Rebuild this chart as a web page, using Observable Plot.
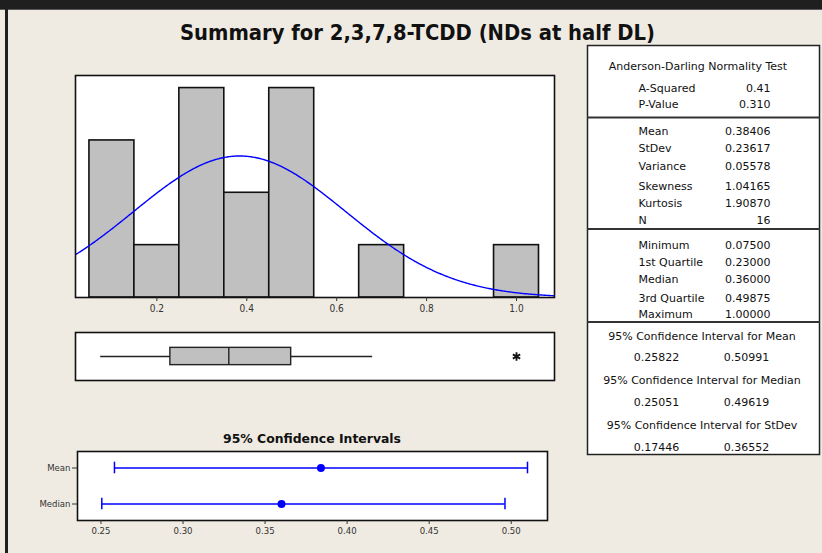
<!DOCTYPE html>
<html><head><meta charset="utf-8">
<script src="https://cdn.jsdelivr.net/npm/d3@7"></script>
<script src="https://cdn.jsdelivr.net/npm/@observablehq/plot@0.6"></script>
<style>
body{margin:0;background:#efebe2;}
#c{position:relative;width:822px;height:553px;overflow:hidden;background:#efebe2;font-family:"DejaVu Sans Condensed","DejaVu Sans",sans-serif;}
#c > svg{position:absolute;margin:0;overflow:visible;}
</style></head><body><div id="c"></div>
<script>
// ---------- data ----------
const titleText = "Summary for 2,3,7,8-TCDD (NDs at half DL)";
const binEdges = [0.05,0.15,0.25,0.35,0.45,0.55,0.65,0.75,0.85,0.95,1.05];
const binCounts = [3,1,4,2,4,0,1,0,0,1];
const histTicks = [0.2,0.4,0.6,0.8,1.0];
const fitMean = 0.38406, fitStDev = 0.23617, nObs = 16;
const boxQ1 = 0.23, boxMedian = 0.36, boxQ3 = 0.49875;
const whiskerLo = 0.075, whiskerHi = 0.68;
const outliers = [1.0];
const ciNames = ["Mean","Median"];
const ciLo = [0.25822,0.25051];
const ciHi = [0.50991,0.49619];
const ciEst = [0.38406,0.36000];
const ciTicks = [0.25,0.30,0.35,0.40,0.45,0.50];
const ciPanelTitle = "95% Confidence Intervals";
const adTitle = "Anderson-Darling Normality Test";
const adLabels = ["A-Squared","P-Value"];
const adValues = ["0.41","0.310"];
const descLabels = ["Mean","StDev","Variance","Skewness","Kurtosis","N"];
const descValues = ["0.38406","0.23617","0.05578","1.04165","1.90870","16"];
const quantLabels = ["Minimum","1st Quartile","Median","3rd Quartile","Maximum"];
const quantValues = ["0.07500","0.23000","0.36000","0.49875","1.00000"];
const ciTableTitles = ["95% Confidence Interval for Mean","95% Confidence Interval for Median","95% Confidence Interval for StDev"];
const ciTableLo = ["0.25822","0.25051","0.17446"];
const ciTableHi = ["0.50991","0.49619","0.36552"];

// ---------- layout / style ----------
const FONT = '"DejaVu Sans Condensed","DejaVu Sans",sans-serif';
const TFONT = '"DejaVu Sans",sans-serif';
const container = document.getElementById("c");
const xDomain = [0.019, 1.0845];
const baseStyle = {fontFamily: FONT, fontSize: "10px", color: "#333", background: "transparent", overflow: "visible"};
function place(svg, left, top) {
  svg.style.left = left + "px"; svg.style.top = top + "px";
  container.appendChild(svg);
}

// frame decorations
const deco = d3.create("svg").attr("width",822).attr("height",553);
deco.append("rect").attr("x",0).attr("y",0).attr("width",822).attr("height",9).attr("fill","#1f1f1f");
deco.append("rect").attr("x",0).attr("y",9).attr("width",822).attr("height",1).attr("fill","#5a5a5a");
deco.append("rect").attr("x",5).attr("y",9).attr("width",3).attr("height",544).attr("fill","#1f1f1f");
place(deco.node(), 0, 0);

// ---------- histogram ----------
const bins = binCounts.map((c,i) => ({x1: binEdges[i], x2: binEdges[i+1], count: c}));
const binW = binEdges[1] - binEdges[0];
const curve = d3.range(xDomain[0], xDomain[1] + 0.0025, 0.0025).map(x => ({
  x, y: nObs * binW * Math.exp(-0.5 * ((x - fitMean)/fitStDev)**2) / (fitStDev * Math.sqrt(2*Math.PI))
}));
const hist = Plot.plot({
  width: 499, height: 262, marginLeft: 10, marginRight: 10, marginTop: 10, marginBottom: 30,
  style: baseStyle,
  x: {domain: xDomain},
  y: {domain: [0, 4.24], axis: null},
  marks: [
    Plot.frame({fill: "white"}),
    Plot.rectY(bins, {x1: "x1", x2: "x2", y: "count", fill: "#c0c0c0", stroke: "#111", strokeWidth: 1.6}),
    Plot.line(curve, {x: "x", y: "y", stroke: "#0000ff", strokeWidth: 1.4, clip: true}),
    Plot.frame({stroke: "#111", strokeWidth: 1.6}),
    Plot.axisX({ticks: histTicks, tickFormat: d3.format(".1f"), tickSize: 4, tickPadding: 3, fontSize: 10, stroke: "#333", label: null})
  ]
});
place(hist, 65, 65);

// ---------- boxplot ----------
const boxData = [{lo: whiskerLo, q1: boxQ1, med: boxMedian, q3: boxQ3, hi: whiskerHi}];
const box = Plot.plot({
  width: 499, height: 68, marginLeft: 10, marginRight: 10, marginTop: 10, marginBottom: 10,
  style: baseStyle,
  x: {domain: xDomain, axis: null},
  y: {domain: [0, 1], axis: null},
  marks: [
    Plot.frame({fill: "white"}),
    Plot.ruleY(boxData, {y: () => 0.5, x1: "lo", x2: "q1", stroke: "#222", strokeWidth: 1.5}),
    Plot.ruleY(boxData, {y: () => 0.5, x1: "q3", x2: "hi", stroke: "#222", strokeWidth: 1.5}),
    Plot.rect(boxData, {x1: "q1", x2: "q3", y1: () => 0.32, y2: () => 0.68, fill: "#c0c0c0", stroke: "#222", strokeWidth: 1.4}),
    Plot.ruleX(boxData, {x: "med", y1: () => 0.32, y2: () => 0.68, stroke: "#222", strokeWidth: 1.4}),
    Plot.dot(outliers, {x: d => d, y: () => 0.5, symbol: "asterisk", r: 4, stroke: "#111", strokeWidth: 1.8}),
    Plot.frame({stroke: "#111", strokeWidth: 1.6})
  ]
});
place(box, 65, 322);

// ---------- confidence intervals ----------
const ci = ciNames.map((name,i) => ({name, lo: ciLo[i], hi: ciHi[i], est: ciEst[i]}));
const ciPlot = Plot.plot({
  width: 535, height: 104, marginLeft: 50, marginRight: 15, marginTop: 10, marginBottom: 25,
  style: baseStyle,
  x: {domain: [0.2357, 0.5221], label: null},
  y: {type: "band", domain: ciNames, paddingInner: 0.3, paddingOuter: 0.1, label: null},
  marks: [
    Plot.frame({fill: "white"}),
    Plot.ruleY(ci, {y: "name", x1: "lo", x2: "hi", stroke: "#0000ff", strokeWidth: 1.5}),
    Plot.tickX(ci, {x: "lo", y: "name", stroke: "#0000ff", strokeWidth: 1.5, insetTop: 6.7, insetBottom: 6.7}),
    Plot.tickX(ci, {x: "hi", y: "name", stroke: "#0000ff", strokeWidth: 1.5, insetTop: 6.7, insetBottom: 6.7}),
    Plot.dot(ci, {x: "est", y: "name", r: 4, fill: "#0000ff"}),
    Plot.frame({stroke: "#111", strokeWidth: 1.6}),
    Plot.axisX({ticks: ciTicks, tickFormat: d3.format(".2f"), tickSize: 4, tickPadding: 3, fontSize: 9.5, stroke: "#333", label: null}),
    Plot.axisY({tickSize: 5, tickPadding: 2, fontSize: 9.5, stroke: "#333", label: null})
  ]
});
place(ciPlot, 27, 441);

// ---------- text overlay (title, stats table) ----------
const ov = d3.create("svg").attr("width",822).attr("height",553)
  .style("font-family", TFONT).style("pointer-events","none");
ov.append("text").attr("x",180).attr("y",40).attr("textLength",475).attr("lengthAdjust","spacingAndGlyphs")
  .attr("font-family", FONT).attr("font-size",22).attr("font-weight","bold").attr("fill","#111").text(titleText);
ov.append("text").attr("x",312).attr("y",443).attr("text-anchor","middle").attr("textLength",178)
  .attr("lengthAdjust","spacingAndGlyphs").attr("font-family", FONT).attr("font-size",13).attr("font-weight","bold").attr("fill","#111").text(ciPanelTitle);

// table box
ov.append("rect").attr("x",587.5).attr("y",45.5).attr("width",232).attr("height",409)
  .attr("fill","white").attr("stroke","#222").attr("stroke-width",1.5);
[117.5, 229, 322].forEach(y => ov.append("line").attr("x1",587).attr("x2",820).attr("y1",y).attr("y2",y)
  .attr("stroke","#333").attr("stroke-width",2));

const fs = 11, lx = 638.5, rx = 770.5;
function txt(x, y, s, anchor) {
  ov.append("text").attr("x",x).attr("y",y).attr("text-anchor",anchor||"start")
    .attr("font-size",fs).attr("fill","#111").text(s);
}
txt(698, 70, adTitle, "middle");
const adY = [91.5, 108];
adLabels.forEach((l,i) => { txt(lx, adY[i], l); txt(rx, adY[i], adValues[i], "end"); });
const descY = [134.5, 151.5, 170, 189.5, 206.5, 224];
descLabels.forEach((l,i) => { txt(lx, descY[i], l); txt(rx, descY[i], descValues[i], "end"); });
const quantY = [249, 265.5, 282.5, 301.5, 318];
quantLabels.forEach((l,i) => { txt(lx, quantY[i], l); txt(rx, quantY[i], quantValues[i], "end"); });
const ciTitleY = [340, 383.5, 429], ciValY = [361, 405.5, 450.5];
ciTableTitles.forEach((t,i) => {
  txt(702, ciTitleY[i], t, "middle");
  txt(656.5, ciValY[i], ciTableLo[i], "middle");
  txt(746.5, ciValY[i], ciTableHi[i], "middle");
});
place(ov.node(), 0, 0);
</script></body></html>
